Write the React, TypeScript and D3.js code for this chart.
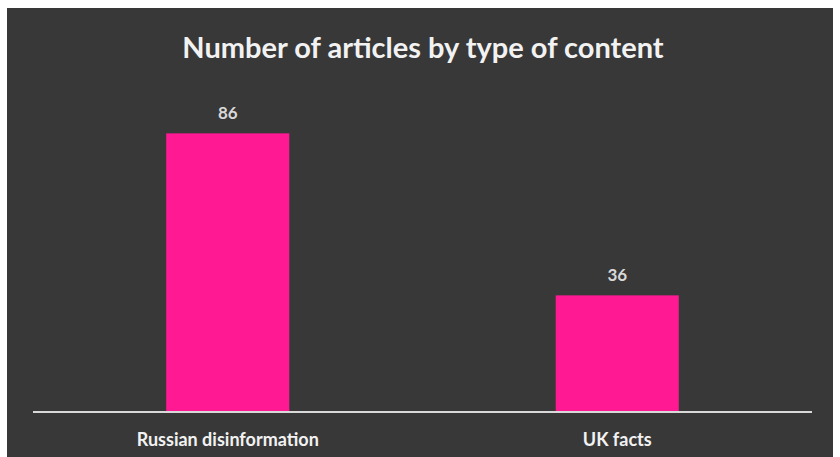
import React from "react";
import * as d3 from "d3";

const categories = ["Russian disinformation", "UK facts"];
const values = [86, 36];
const title = "Number of articles by type of content";

const W = 840;
const H = 457;

export default function App() {
  const x = d3
    .scaleBand<string>()
    .domain(categories)
    .range([33, 812])
    .paddingInner(0.684)
    .paddingOuter(0.342);
  const y = d3.scaleLinear().domain([0, 100]).range([412, 88]);
  const font = "Lato, 'Open Sans', sans-serif";
  return (
    <div style={{ position: "fixed", left: 0, top: 0, width: W, height: H, background: "#fff" }}>
      <svg width={W} height={H} style={{ display: "block" }}>
        <rect x={7} y={8} width={826} height={H - 8} fill="#383838" />
        <text
          x={423}
          y={58}
          textAnchor="middle"
          fill="#f2f2f2"
          fontFamily={font}
          fontWeight={700}
          fontSize={29}
        >
          {title}
        </text>
        {categories.map((c, i) => (
          <g key={c}>
            <rect
              x={x(c)}
              y={y(values[i])}
              width={x.bandwidth()}
              height={y(0) - y(values[i])}
              fill="#ff1a94"
            />
            <text
              x={(x(c) as number) + x.bandwidth() / 2}
              y={y(values[i]) - 14}
              textAnchor="middle"
              fill="#d9d9d9"
              fontFamily={font}
              fontWeight={700}
              fontSize={17}
            >
              {values[i]}
            </text>
            <text
              x={(x(c) as number) + x.bandwidth() / 2}
              y={446}
              textAnchor="middle"
              fill="#f2f2f2"
              fontFamily={font}
              fontWeight={700}
              fontSize={18}
            >
              {c}
            </text>
          </g>
        ))}
        <line x1={33} x2={812} y1={y(0)} y2={y(0)} stroke="#d9d9d9" strokeWidth={2} />
      </svg>
    </div>
  );
}
